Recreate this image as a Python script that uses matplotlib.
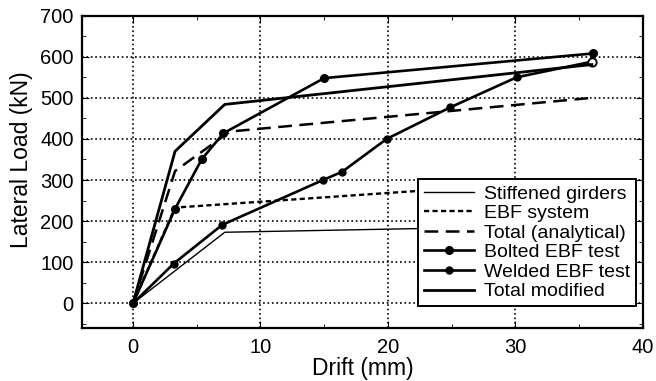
import matplotlib
matplotlib.use('Agg')
import matplotlib.pyplot as plt
from matplotlib.ticker import MultipleLocator

plt.rcParams['font.family'] = ['Liberation Sans', 'DejaVu Sans']

# data
stiff_x = [0, 7.2, 36]
stiff_y = [0, 173, 190]

ebf_x = [0, 3.3, 20.2, 36]
ebf_y = [0, 233, 269, 302]

total_x = [0, 3.3, 7.6, 36]
total_y = [0, 322, 418, 500]

bolted_x = [0, 3.3, 5.4, 7.1, 15.0, 36.1]
bolted_y = [0, 230, 351, 414, 548, 608]

welded_x = [0, 3.2, 7.0, 14.9, 16.4, 19.9, 24.9, 30.1, 36.0]
welded_y = [0, 97, 191, 300, 320, 400, 477, 550, 588]

modified_x = [0, 3.3, 7.2, 36]
modified_y = [0, 370, 484, 581]

fig = plt.figure(figsize=(6.56, 3.81), dpi=100)
ax = fig.add_axes([0.125, 0.139, 0.855, 0.82])

ax.plot(stiff_x, stiff_y, color='black', lw=1.0, label='Stiffened girders')
ax.plot(ebf_x, ebf_y, color='black', lw=1.7, ls=(0, (2.2, 1.4)), label='EBF system')
ax.plot(total_x, total_y, color='black', lw=1.8, ls=(0, (5.5, 3)), label='Total (analytical)')
ax.plot(bolted_x, bolted_y, color='black', lw=1.9, marker='o', ms=5.5, label='Bolted EBF test')
ax.plot(welded_x, welded_y, color='black', lw=1.9, marker='o', ms=5, label='Welded EBF test')
ax.plot(welded_x[-1:], welded_y[-1:], ls='none', marker='o', ms=6,
        mfc='white', mec='black', mew=1.3)
ax.plot(modified_x, modified_y, color='black', lw=2.0, label='Total modified')

ax.set_xlim(-4, 40)
ax.set_ylim(-60, 700)
ax.xaxis.set_major_locator(MultipleLocator(10))
ax.xaxis.set_minor_locator(MultipleLocator(5))
ax.yaxis.set_major_locator(MultipleLocator(100))
ax.yaxis.set_minor_locator(MultipleLocator(50))
ax.tick_params(which='both', direction='in', top=True, right=True, labelsize=14.5)
ax.tick_params(which='major', length=5)
ax.tick_params(which='minor', length=3)
ax.tick_params(axis='x', which='major', pad=7)
ax.tick_params(axis='y', which='major', pad=6)
ax.grid(True, which='major', color='black', ls=':', lw=1.2)
ax.set_axisbelow(True)
for s in ax.spines.values():
    s.set_linewidth(1.6)

ax.set_xlabel('Drift (mm)', fontsize=16.5, labelpad=0)
ax.set_ylabel('Lateral Load (kN)', fontsize=16.5)
ax.yaxis.set_label_coords(-0.088, 0.54)

leg = ax.legend(loc='lower right', bbox_to_anchor=(0.9875, 0.07), fontsize=14,
                handlelength=2.6, labelspacing=0.1, borderpad=0.3,
                handletextpad=0.5, borderaxespad=0, fancybox=False, framealpha=1)
leg.get_frame().set_edgecolor('black')
leg.get_frame().set_linewidth(1.4)

fig.savefig('out.png', dpi=100)
